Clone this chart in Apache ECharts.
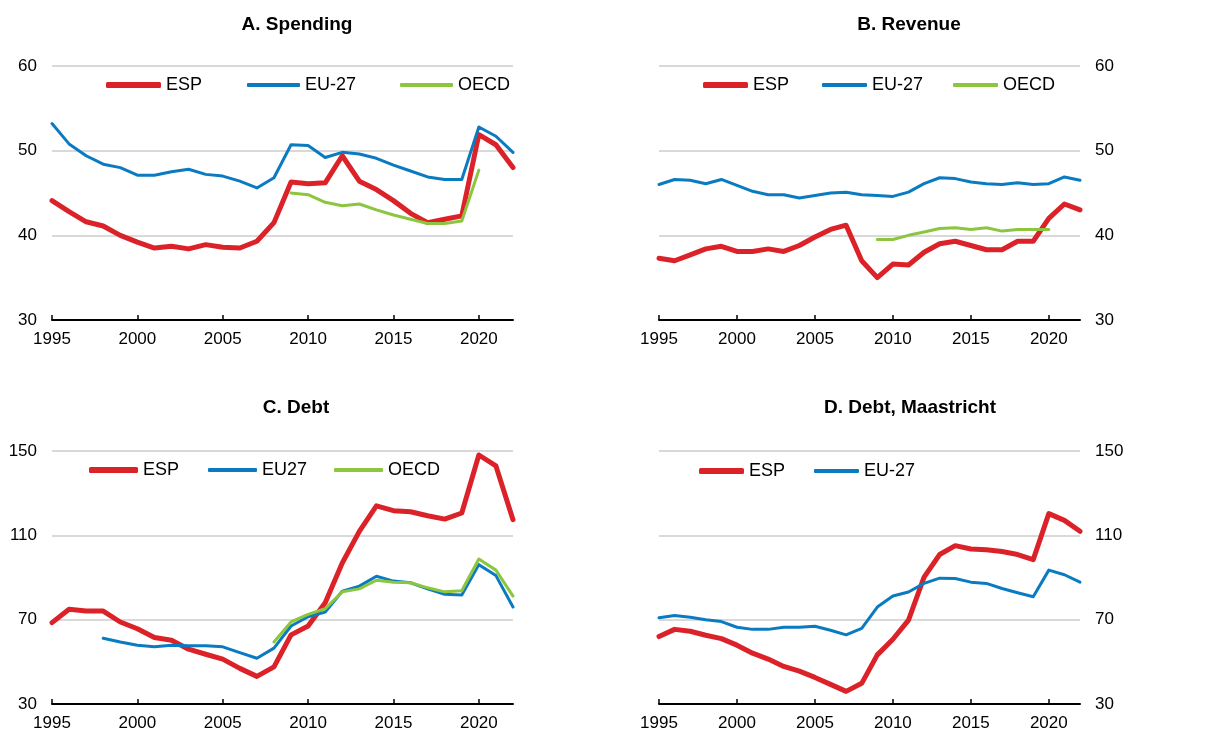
<!DOCTYPE html>
<html lang="en">
<head>
    <meta charset="UTF-8">
    <title>Public finances</title>
    <script src="https://cdn.jsdelivr.net/npm/echarts@6/dist/echarts.min.js"></script>
</head>
<body style="margin: 0; background: #fff">
    <div id="container" style="width: 1213px; height: 732px"></div>
    <script type="text/javascript">
        // years 1995..2022
        var years = [];
        for (var y = 1995; y <= 2022; y++) years.push(y);
        var xTicks = [1995, 2000, 2005, 2010, 2015, 2020];

        // A. Spending
        var spendESP = [44.1, 42.8, 41.6, 41.1, 40.0, 39.2, 38.5, 38.7, 38.4, 38.9, 38.6, 38.5, 39.3, 41.5, 46.3, 46.1, 46.2, 49.4, 46.4, 45.4, 44.1, 42.6, 41.5, 41.9, 42.3, 51.9, 50.7, 48.0];
        var spendEU = [53.2, 50.8, 49.4, 48.4, 48.0, 47.1, 47.1, 47.5, 47.8, 47.2, 47.0, 46.4, 45.6, 46.8, 50.7, 50.6, 49.2, 49.8, 49.6, 49.1, 48.3, 47.6, 46.9, 46.6, 46.6, 52.8, 51.7, 49.8];
        var spendOECD = [null, null, null, null, null, null, null, null, null, null, null, null, null, null, 45.0, 44.8, 43.9, 43.5, 43.7, 43.0, 42.4, 41.9, 41.4, 41.4, 41.7, 47.7, null, null];

        // B. Revenue
        var revESP = [37.3, 37.0, 37.7, 38.4, 38.7, 38.1, 38.1, 38.4, 38.1, 38.8, 39.8, 40.7, 41.2, 37.0, 35.0, 36.6, 36.5, 38.0, 39.0, 39.3, 38.8, 38.3, 38.3, 39.3, 39.3, 42.0, 43.7, 43.0];
        var revEU = [46.0, 46.6, 46.5, 46.1, 46.6, 45.9, 45.2, 44.8, 44.8, 44.4, 44.7, 45.0, 45.1, 44.8, 44.7, 44.6, 45.1, 46.1, 46.8, 46.7, 46.3, 46.1, 46.0, 46.2, 46.0, 46.1, 46.9, 46.5];
        var revOECD = [null, null, null, null, null, null, null, null, null, null, null, null, null, null, 39.5, 39.5, 40.0, 40.4, 40.8, 40.9, 40.7, 40.9, 40.5, 40.7, 40.7, 40.7, null, null];

        // C. Debt
        var debtESP = [68.6, 74.9, 74.1, 74.1, 68.9, 65.7, 61.5, 60.2, 56.0, 53.6, 51.3, 46.9, 43.1, 47.6, 62.8, 67.0, 78.0, 96.9, 111.9, 124.0, 121.7, 121.2, 119.3, 117.7, 120.6, 148.1, 142.9, 117.4];
        var debtEU = [null, null, null, 61.2, 59.4, 57.9, 57.2, 57.9, 57.6, 57.6, 57.1, 54.4, 51.7, 56.5, 67.0, 71.4, 73.6, 83.5, 85.9, 90.6, 88.3, 87.5, 84.6, 82.0, 81.7, 96.1, 90.9, 76.0];
        var debtOECD = [null, null, null, null, null, null, null, null, null, null, null, null, null, 59.4, 68.9, 72.5, 75.2, 83.2, 84.6, 88.7, 87.8, 87.5, 85.1, 83.2, 83.7, 98.8, 93.5, 81.2];

        // D. Debt, Maastricht
        var maasESP = [62.0, 65.4, 64.5, 62.6, 61.0, 57.9, 54.1, 51.3, 47.8, 45.6, 42.6, 39.3, 36.0, 39.8, 53.3, 60.7, 69.8, 90.2, 100.9, 105.1, 103.5, 103.2, 102.3, 100.9, 98.5, 120.3, 117.1, 111.9];
        var maasEU = [70.9, 72.0, 71.1, 70.0, 69.1, 66.4, 65.4, 65.4, 66.4, 66.4, 66.9, 65.0, 62.8, 65.9, 76.0, 81.2, 83.1, 87.2, 89.7, 89.5, 87.8, 87.2, 84.8, 82.8, 80.9, 93.5, 91.3, 87.8];

        var FONT = 'Liberation Sans, Arial, sans-serif';
        var RED = '#dc2229', BLUE = '#0b7bc1', GREEN = '#8cc63f';

        function pairs(arr) {
            var out = [];
            for (var i = 0; i < years.length; i++) {
                if (arr[i] != null) out.push([years[i], arr[i]]);
            }
            return out;
        }

        function xAx(gi) {
            return {
                gridIndex: gi, type: 'value', min: 1995, max: 2022,
                axisLine: { show: true, lineStyle: { color: '#000', width: 2 } },
                axisTick: { show: true, inside: true, length: 5, customValues: xTicks, lineStyle: { color: '#000', width: 1.5 } },
                axisLabel: {
                    customValues: xTicks, margin: 11, fontSize: 17, color: '#000', fontFamily: FONT,
                    formatter: function (v) { return String(v); }
                },
                splitLine: { show: false }
            };
        }

        function yAx(gi, min, max, step, pos) {
            return {
                gridIndex: gi, type: 'value', min: min, max: max, interval: step, position: pos,
                axisLine: { show: false }, axisTick: { show: false },
                axisLabel: { margin: 15, fontSize: 17, color: '#000', fontFamily: FONT },
                splitLine: { show: true, lineStyle: { color: '#d9d9d9', width: 2 } }
            };
        }

        function line(name, gi, arr, color, w) {
            return {
                name: name, type: 'line', xAxisIndex: gi, yAxisIndex: gi,
                data: pairs(arr), symbol: 'none', z: w > 4 ? 3 : 4,
                lineStyle: { color: color, width: w, cap: 'round', join: 'round' },
                itemStyle: { color: color }
            };
        }

        function leg(name, left, top, w, h) {
            return {
                data: [name], left: left, top: top, itemWidth: w, itemHeight: h,
                icon: 'roundRect', padding: 0, selectedMode: false,
                textStyle: { fontSize: 18, color: '#000', fontFamily: FONT }
            };
        }

        function title(text, x, y) {
            return {
                type: 'text', x: x, y: y,
                style: { text: text, textAlign: 'center', textVerticalAlign: 'middle', font: 'bold 19px ' + FONT, fill: '#000' }
            };
        }

        var myChart = echarts.init(document.getElementById('container'), null, { renderer: 'canvas' });

        var option = {
            backgroundColor: '#fff',
            animation: false,
            graphic: [
                title('A. Spending', 297, 25),
                title('B. Revenue', 909, 25),
                title('C. Debt', 296, 408),
                title('D. Debt, Maastricht', 910, 408)
            ],
            grid: [
                { left: 52, top: 66, width: 461, height: 254 },
                { left: 659, top: 66, width: 421, height: 254 },
                { left: 52, top: 451, width: 461, height: 253 },
                { left: 659, top: 451, width: 421, height: 253 }
            ],
            legend: [
                leg('ESP', 106, 76, 55, 6), leg('EU-27', 247, 76, 53, 4), leg('OECD', 400, 76, 53, 4),
                leg('ESP', 703, 76, 45, 6), leg('EU-27', 822, 76, 45, 4), leg('OECD', 953, 76, 45, 4),
                leg('ESP', 89, 461, 49, 6), leg('EU27', 208, 461, 49, 4), leg('OECD', 334, 461, 49, 4),
                leg('ESP', 699, 462, 45, 6), leg('EU-27', 814, 462, 45, 4)
            ],
            xAxis: [xAx(0), xAx(1), xAx(2), xAx(3)],
            yAxis: [
                yAx(0, 30, 60, 10, 'left'),
                yAx(1, 30, 60, 10, 'right'),
                yAx(2, 30, 150, 40, 'left'),
                yAx(3, 30, 150, 40, 'right')
            ],
            series: [
                line('EU-27', 0, spendEU, BLUE, 3),
                line('OECD', 0, spendOECD, GREEN, 3),
                line('ESP', 0, spendESP, RED, 5),
                line('EU-27', 1, revEU, BLUE, 3),
                line('OECD', 1, revOECD, GREEN, 3),
                line('ESP', 1, revESP, RED, 5),
                line('EU27', 2, debtEU, BLUE, 3),
                line('OECD', 2, debtOECD, GREEN, 3),
                line('ESP', 2, debtESP, RED, 5),
                line('EU-27', 3, maasEU, BLUE, 3),
                line('ESP', 3, maasESP, RED, 5)
            ]
        };

        myChart.setOption(option);
        window.addEventListener('resize', myChart.resize);
    </script>
</body>
</html>
